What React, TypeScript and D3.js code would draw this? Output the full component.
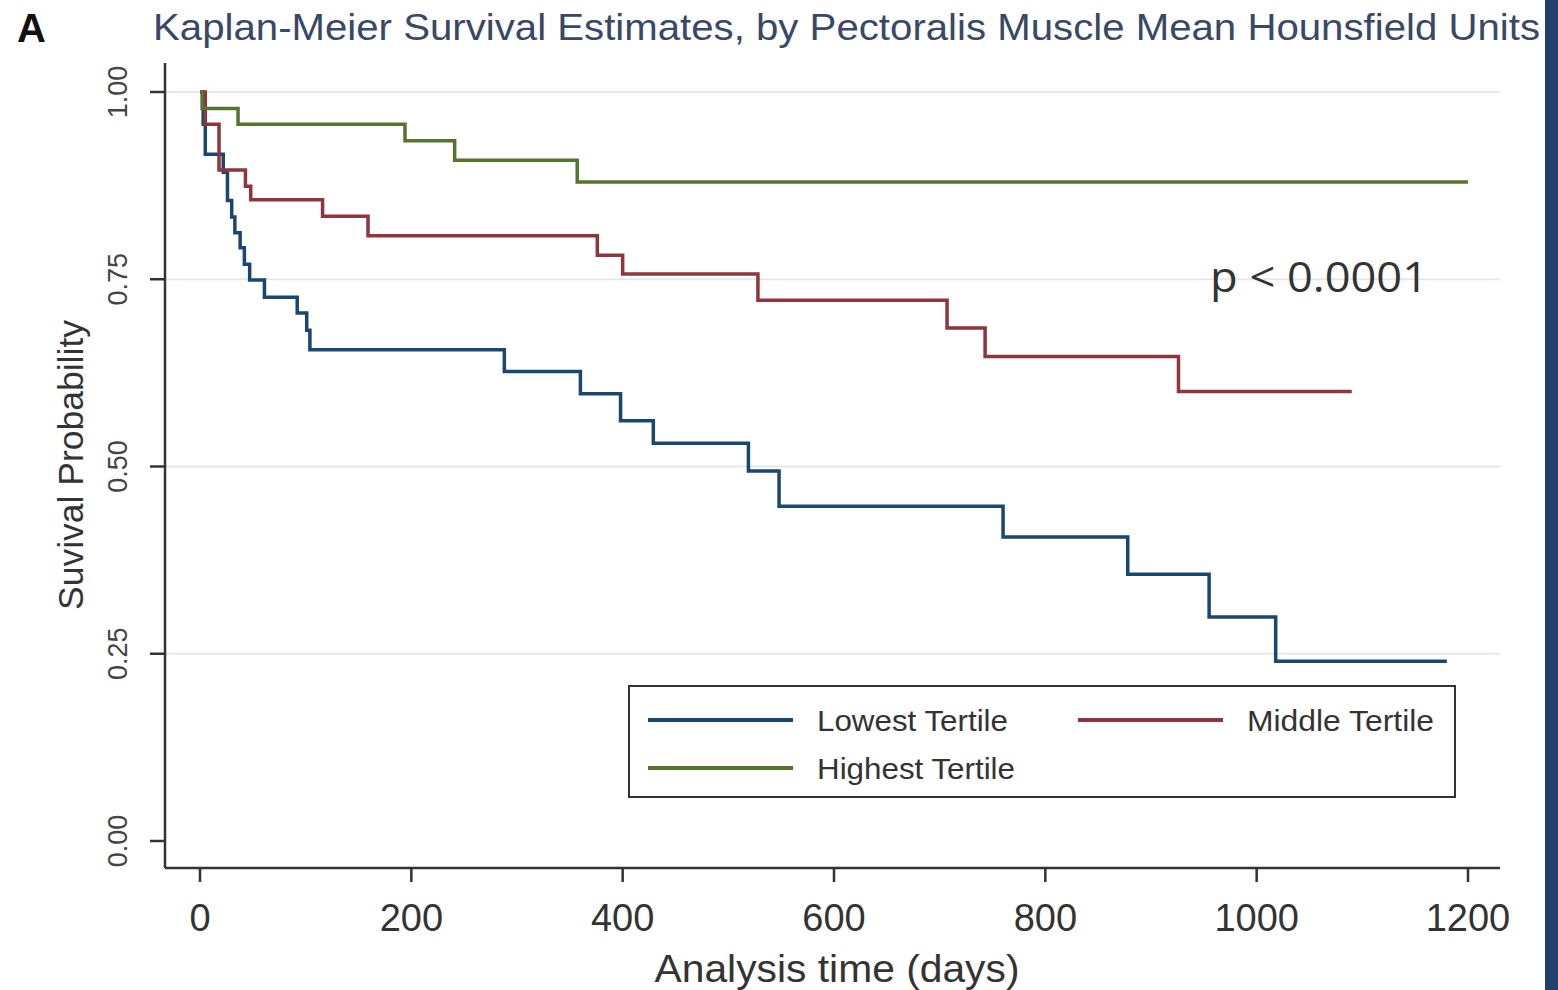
import React from 'react'
import * as d3 from 'd3'

// Kaplan-Meier steps (days, survival)
const lowTimes = [0, 3, 5, 22, 26, 30, 33, 38, 42, 47, 61, 92, 101, 104, 288, 360, 398, 429, 519, 548, 760, 878, 955, 1018, 1180]
const lowSurv = [1, 0.957, 0.917, 0.893, 0.855, 0.833, 0.812, 0.792, 0.77, 0.749, 0.726, 0.705, 0.682, 0.656, 0.627, 0.597, 0.561, 0.531, 0.494, 0.447, 0.406, 0.356, 0.299, 0.24, 0.24]

const midTimes = [0, 5, 18, 43, 48, 116, 159, 376, 400, 528, 707, 743, 926, 1090]
const midSurv = [1, 0.957, 0.896, 0.874, 0.856, 0.834, 0.808, 0.782, 0.757, 0.722, 0.685, 0.647, 0.6, 0.6]

const highTimes = [0, 2, 36, 194, 241, 357, 1200]
const highSurv = [1, 0.978, 0.957, 0.935, 0.909, 0.88, 0.88]

const xTicks = [0, 200, 400, 600, 800, 1000, 1200]
const yTicks = [0, 0.25, 0.5, 0.75, 1]

const seriesNames = ['Lowest Tertile', 'Middle Tertile', 'Highest Tertile']
const colors = ['#1a476f', '#90353b', '#55752f']

const W = 1558
const H = 990
const font = 'Liberation Sans, Arial, sans-serif'

const App = () => {
    const x = d3.scaleLinear().domain([0, 1200]).range([200, 1468])
    const y = d3.scaleLinear().domain([0, 1]).range([841, 92])

    const line = d3.line<[number, number]>()
        .x(d => x(d[0]))
        .y(d => y(d[1]))
        .curve(d3.curveStepAfter)

    const series = [
        d3.zip(lowTimes, lowSurv) as [number, number][],
        d3.zip(midTimes, midSurv) as [number, number][],
        d3.zip(highTimes, highSurv) as [number, number][],
    ]

    const axisX = 165
    const axisY = 868
    const fmt = d3.format('.2f')

    // legend layout
    const legendItems = [
        { name: seriesNames[0], color: colors[0], lx: 648, ly: 720, w: 191 },
        { name: seriesNames[1], color: colors[1], lx: 1078, ly: 720, w: 187 },
        { name: seriesNames[2], color: colors[2], lx: 648, ly: 768, w: 198 },
    ]

    return (
        <svg width={W} height={H} style={{ position: 'absolute', left: 0, top: 0, background: '#fff' }}>
            <rect x={0} y={0} width={W} height={H} fill="#fff" />

            {/* panel letter and title */}
            <text x={17} y={42} fontFamily={font} fontWeight="bold" fontSize={40} fill="#111">A</text>
            <text x={153} y={40} fontFamily={font} fontSize={37} fill="#3a4868"
                textLength={1387} lengthAdjust="spacingAndGlyphs">
                Kaplan-Meier Survival Estimates, by Pectoralis Muscle Mean Hounsfield Units
            </text>

            {/* gridlines */}
            {yTicks.filter(t => t > 0).map(t => (
                <line key={t} x1={axisX} x2={1500} y1={y(t)} y2={y(t)} stroke="#e4eaea" strokeWidth={2} />
            ))}

            {/* axes */}
            <line x1={axisX} x2={axisX} y1={63} y2={axisY} stroke="#333" strokeWidth={2.5} />
            <line x1={axisX} x2={1500} y1={axisY} y2={axisY} stroke="#333" strokeWidth={2.5} />

            {yTicks.map(t => (
                <g key={t}>
                    <line x1={axisX - 15} x2={axisX} y1={y(t)} y2={y(t)} stroke="#333" strokeWidth={2.5} />
                    <text transform={`translate(127,${y(t)}) rotate(-90)`} textAnchor="middle"
                        fontFamily={font} fontSize={27} fill="#444">{fmt(t)}</text>
                </g>
            ))}

            {xTicks.map(t => (
                <g key={t}>
                    <line x1={x(t)} x2={x(t)} y1={axisY} y2={axisY + 14} stroke="#333" strokeWidth={2.5} />
                    <text x={x(t)} y={931} textAnchor="middle" fontFamily={font} fontSize={38} fill="#333">{t}</text>
                </g>
            ))}

            {/* axis titles */}
            <text x={837} y={982} textAnchor="middle" fontFamily={font} fontSize={38} fill="#333"
                textLength={365} lengthAdjust="spacingAndGlyphs">Analysis time (days)</text>
            <text transform="translate(83,465) rotate(-90)" textAnchor="middle" fontFamily={font}
                fontSize={35} fill="#333" textLength={290} lengthAdjust="spacingAndGlyphs">Suvival Probability</text>

            {/* survival curves */}
            {series.map((s, i) => (
                <path key={i} d={line(s) || ''} fill="none" stroke={colors[i]} strokeWidth={3.5} />
            ))}

            {/* p value */}
            <text x={1210} y={292} fontFamily="Open Sans, sans-serif" fontSize={42} fill="#333"
                textLength={218} lengthAdjust="spacingAndGlyphs">p &lt; 0.0001</text>

            {/* legend */}
            <rect x={629} y={686} width={826} height={111} fill="#fff" stroke="#333" strokeWidth={2} />
            {legendItems.map(d => (
                <g key={d.name}>
                    <line x1={d.lx} x2={d.lx + 145} y1={d.ly} y2={d.ly} stroke={d.color} strokeWidth={4} />
                    <text x={d.lx + 169} y={d.ly + 11} fontFamily={font} fontSize={30} fill="#333"
                        textLength={d.w} lengthAdjust="spacingAndGlyphs">{d.name}</text>
                </g>
            ))}

            {/* dark strip on right edge */}
            <rect x={1545} y={0} width={W - 1545} height={H} fill="#233f6e" />
        </svg>
    )
}

export default App
